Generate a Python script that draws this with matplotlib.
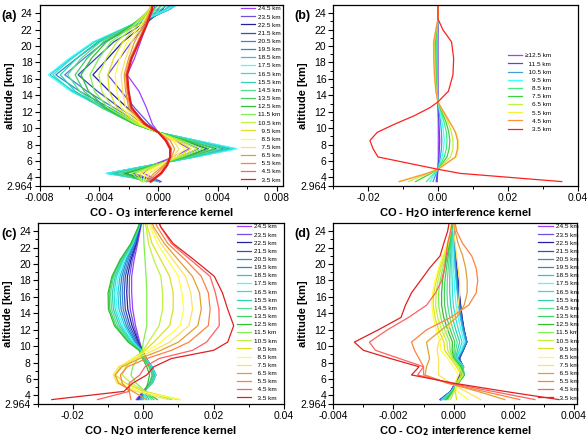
import numpy as np
import matplotlib
matplotlib.use('Agg')
import matplotlib.pyplot as plt
from matplotlib.ticker import FixedLocator

plt.rcParams['font.family'] = ['Liberation Sans', 'DejaVu Sans']
plt.rcParams['axes.unicode_minus'] = False

# ---------------- data ----------------
LEVELS = ['24.5 km', '23.5 km', '22.5 km', '21.5 km', '20.5 km', '19.5 km', '18.5 km',
          '17.5 km', '16.5 km', '15.5 km', '14.5 km', '13.5 km', '12.5 km', '11.5 km',
          '10.5 km', '  9.5 km', '  8.5 km', '  7.5 km', '  6.5 km', '  5.5 km',
          '  4.5 km', '  3.5 km']
COLORS = ['#a040ff', '#7050e0', '#2020a0', '#3050c0', '#4080e0', '#2090c0', '#30c0e0',
          '#40ffff', '#30e0d0', '#30d0b0', '#50e090', '#40d060', '#30c030', '#80f050',
          '#c0f040', '#e0e020', '#ffff40', '#ffe060', '#e0a030', '#ff8040', '#ff6060',
          '#e02020']

LEVELS_B = ['\u226512.5 km', '  11.5 km', '  10.5 km', '    9.5 km', '    8.5 km',
            '    7.5 km', '    6.5 km', '    5.5 km', '    4.5 km', '    3.5 km']
COLORS_B = ['#a040ff', '#6040e0', '#40a0e0', '#40ffff', '#40f080', '#40d040',
            '#c0f040', '#f0f040', '#ff9040', '#ff2020']

# altitude grids [km]
Z_A = [3.5, 4.5, 5.5, 6.5, 7.5, 8.5, 9.5, 10.5, 12.5, 14.5, 16.5, 18.5, 20.5, 22.5, 24.5, 25.0]
Z_B = [3.5, 4.5, 5.0, 6.5, 7.5, 8.5, 9.5, 10.5, 11.5, 12.5, 13.2, 14.5, 16.5, 18.5, 20.5, 22.0, 23.3, 25.0]
Z_C = [3.5, 4.5, 5.5, 6.5, 7.5, 8.5, 9.5, 10.5, 12.5, 14.5, 16.5, 18.5, 20.5, 22.5, 24.5, 25.0]
Z_D = [3.5, 4.5, 5.5, 6.5, 7.5, 8.5, 9.5, 10.5, 12.0, 13.5, 15.0, 16.5, 18.0, 19.5, 21.0, 22.5, 24.0, 25.0]

# CO - O3 kernels (x 1e-3), rows 24.5 km ... 3.5 km
O3_KERNELS = [
    [0.2, -1.0, -0.4, 1.0, 2.1, 1.1, 0.0, -0.4, -0.8, -1.3, -2.1, -1.6, -1.2, -0.8, -0.3, -0.2],
    [0.1, -1.7, -0.4, 1.4, 2.7, 1.4, 0.0, -0.6, -1.6, -2.5, -3.4, -2.6, -1.8, -0.9, 0.0, 0.2],
    [0.1, -2.3, -0.4, 1.8, 3.3, 1.7, 0.0, -0.8, -2.1, -3.3, -4.4, -3.4, -2.4, -1.0, 0.3, 0.5],
    [0.1, -2.8, -0.4, 2.1, 3.9, 2.0, 0.0, -1.0, -2.6, -4.1, -5.4, -4.2, -3.0, -1.2, 0.5, 0.8],
    [0.1, -3.2, -0.5, 2.3, 4.4, 2.3, 0.0, -1.2, -3.0, -4.8, -6.3, -5.0, -3.6, -1.5, 0.7, 1.0],
    [0.1, -3.4, -0.5, 2.4, 4.8, 2.5, 0.0, -1.3, -3.3, -5.3, -6.9, -5.5, -4.0, -1.7, 0.8, 1.1],
    [0.0, -3.5, -0.5, 2.5, 5.2, 2.6, 0.0, -1.4, -3.5, -5.7, -7.3, -5.9, -4.3, -1.8, 0.8, 1.2],
    [-0.2, -3.5, -0.5, 2.5, 5.3, 2.6, 0.0, -1.5, -3.7, -5.9, -7.4, -6.0, -4.4, -1.9, 0.7, 1.1],
    [-0.4, -3.3, -0.5, 2.4, 5.0, 2.5, 0.0, -1.6, -3.8, -5.8, -7.1, -5.8, -4.3, -1.9, 0.5, 0.9],
    [-0.6, -3.0, -0.4, 2.3, 4.6, 2.3, 0.0, -1.6, -3.8, -5.6, -6.6, -5.5, -4.1, -1.9, 0.2, 0.6],
    [-0.8, -2.7, -0.4, 2.1, 4.2, 2.2, 0.0, -1.6, -3.8, -5.3, -6.1, -5.2, -3.9, -1.9, -0.1, 0.3],
    [-0.9, -2.4, -0.3, 1.9, 3.8, 2.0, 0.0, -1.6, -3.7, -5.0, -5.6, -4.8, -3.7, -1.8, -0.3, 0.0],
    [-1.0, -2.1, -0.3, 1.8, 3.4, 1.8, 0.0, -1.6, -3.6, -4.7, -5.2, -4.5, -3.5, -1.8, -0.5, -0.3],
    [-1.1, -1.8, -0.2, 1.6, 3.0, 1.6, 0.0, -1.5, -3.4, -4.3, -4.6, -4.0, -3.2, -1.7, -0.6, -0.5],
    [-1.1, -1.5, -0.1, 1.4, 2.6, 1.4, 0.0, -1.4, -3.1, -3.8, -4.0, -3.5, -2.8, -1.6, -0.6, -0.5],
    [-1.1, -1.2, 0.0, 1.3, 2.2, 1.3, 0.0, -1.3, -2.8, -3.3, -3.4, -3.0, -2.4, -1.4, -0.6, -0.5],
    [-1.0, -0.9, 0.1, 1.1, 1.8, 1.1, 0.0, -1.2, -2.5, -2.8, -2.9, -2.6, -2.1, -1.2, -0.5, -0.4],
    [-0.9, -0.6, 0.3, 1.0, 1.4, 1.0, 0.0, -1.1, -2.2, -2.4, -2.5, -2.2, -1.8, -1.1, -0.5, -0.4],
    [-0.8, -0.3, 0.4, 0.9, 1.1, 0.8, 0.0, -1.0, -2.0, -2.2, -2.3, -2.0, -1.6, -1.0, -0.5, -0.4],
    [-0.7, -0.1, 0.5, 0.8, 0.9, 0.6, 0.0, -0.9, -1.9, -2.1, -2.2, -1.9, -1.4, -0.9, -0.5, -0.4],
    [-0.6, 0.1, 0.6, 0.8, 0.8, 0.5, 0.0, -0.9, -1.8, -2.0, -2.1, -1.8, -1.3, -0.8, -0.4, -0.4],
    [-0.5, 0.2, 0.6, 0.8, 0.8, 0.5, 0.0, -0.9, -1.8, -2.0, -2.1, -1.8, -1.3, -0.8, -0.4, -0.4],
]

# CO - H2O kernels (x 1e-3), rows >=12.5 km ... 3.5 km
H2O_KERNELS = [
    [-0.2, -0.1, 0.0, 0.1, 0.1, 0.1, 0.1, 0.1, 0.05, 0.0, 0.0, 0.0, 0.0, 0.0, 0.0, 0.0, 0.0, 0.0],
    [-0.5, -0.2, 0.0, 0.3, 0.4, 0.5, 0.4, 0.3, 0.2, 0.1, 0.0, -0.05, -0.1, -0.1, -0.1, -0.05, 0.0, 0.0],
    [-1.4, -0.5, 0.0, 0.7, 1.0, 1.1, 1.0, 0.8, 0.5, 0.2, 0.0, -0.1, -0.2, -0.2, -0.2, -0.1, 0.0, 0.0],
    [-2.3, -0.8, 0.0, 1.2, 1.6, 1.8, 1.6, 1.3, 0.8, 0.3, 0.0, -0.2, -0.3, -0.3, -0.3, -0.2, 0.0, 0.0],
    [-3.3, -1.1, 0.0, 1.8, 2.4, 2.6, 2.4, 1.9, 1.2, 0.5, 0.0, -0.3, -0.4, -0.5, -0.5, -0.3, 0.0, 0.0],
    [-6.4, -2.0, 0.0, 2.6, 3.2, 3.4, 3.1, 2.5, 1.6, 0.7, 0.0, -0.4, -0.6, -0.7, -0.7, -0.4, 0.0, 0.0],
    [-8.5, -2.6, 0.0, 3.6, 4.3, 4.3, 3.9, 3.1, 2.0, 0.8, 0.0, -0.5, -0.8, -0.9, -1.0, -0.5, 0.0, 0.0],
    [-11.3, -3.2, 0.0, 5.2, 5.8, 5.8, 5.1, 3.8, 2.4, 1.0, 0.0, -0.6, -1.0, -1.2, -1.3, -0.6, 0.0, 0.0],
    [-11.0, -3.1, 0.0, 5.0, 5.6, 5.6, 5.0, 3.7, 2.3, 0.9, 0.0, -0.6, -1.0, -1.2, -1.2, -0.6, 0.0, 0.0],
    [35.5, 6.4, 0.0, -17.2, -18.6, -19.5, -17.4, -12.4, -6.9, -2.3, 0.0, 3.0, 4.3, 4.5, 3.9, 1.4, 0.0, 0.0],
]

# CO - N2O kernels (x 1e-3), rows 24.5 km ... 3.5 km
N2O_KERNELS = [
    [-2.0, 0.0, 1.8, 2.8, 2.0, 0.6, -0.3, -1.0, -2.2, -3.0, -3.3, -3.3, -2.6, -1.6, -0.7, -0.5],
    [-1.8, 0.0, 2.0, 3.0, 2.2, 0.7, -0.3, -1.2, -2.7, -3.7, -4.0, -3.9, -3.1, -1.8, -0.8, -0.6],
    [-1.5, 0.0, 2.2, 3.2, 2.3, 0.8, -0.3, -1.4, -3.2, -4.4, -4.7, -4.5, -3.5, -2.0, -0.9, -0.7],
    [-1.2, 0.0, 2.4, 3.4, 2.4, 0.8, -0.4, -1.7, -3.8, -5.1, -5.4, -5.1, -3.9, -2.2, -1.0, -0.8],
    [-0.8, 0.1, 2.5, 3.5, 2.5, 0.8, -0.4, -2.0, -4.3, -5.7, -6.0, -5.6, -4.3, -2.4, -1.1, -0.8],
    [-0.4, 0.1, 2.6, 3.6, 2.5, 0.8, -0.5, -2.3, -4.8, -6.3, -6.6, -6.1, -4.7, -2.6, -1.2, -0.9],
    [0.0, 0.2, 2.6, 3.6, 2.5, 0.7, -0.6, -2.6, -5.3, -6.9, -7.2, -6.6, -5.0, -2.8, -1.2, -0.9],
    [0.5, 0.2, 2.5, 3.5, 2.4, 0.6, -0.7, -2.9, -5.8, -7.5, -7.8, -7.1, -5.4, -3.0, -1.3, -1.0],
    [1.0, 0.3, 2.4, 3.4, 2.3, 0.5, -0.8, -3.2, -6.3, -8.0, -8.3, -7.6, -5.7, -3.1, -1.3, -1.0],
    [1.6, 0.3, 2.3, 3.2, 2.1, 0.4, -0.9, -3.5, -6.8, -8.5, -8.8, -8.0, -6.0, -3.3, -1.4, -1.0],
    [2.3, 0.4, 2.1, 2.9, 1.9, 0.3, -1.0, -3.8, -7.3, -9.0, -9.3, -8.4, -6.3, -3.4, -1.4, -1.0],
    [3.0, 0.4, 1.8, 2.5, 1.6, 0.1, -1.1, -4.1, -7.8, -9.5, -9.7, -8.7, -6.5, -3.5, -1.4, -1.0],
    [4.0, 0.5, 1.3, 1.8, 1.0, -0.2, -1.2, -4.3, -8.2, -9.9, -10.0, -8.9, -6.6, -3.5, -1.4, -1.0],
    [8.0, 0.5, -2.0, -3.5, -3.0, -1.5, -0.3, 0.0, 1.0, 1.0, 1.0, 0.8, 0.5, 0.2, 0.0, 0.0],
    [9.5, 0.5, -3.5, -6.0, -5.0, -2.5, 0.0, 1.5, 4.5, 5.5, 5.5, 5.0, 3.0, 1.5, 0.8, 0.5],
    [10.5, 0.0, -5.0, -8.0, -6.5, -3.0, 0.5, 3.0, 7.5, 8.5, 8.5, 7.5, 5.0, 2.5, 1.2, 1.0],
    [10.5, -1.0, -6.5, -8.5, -7.0, -3.0, 1.5, 5.0, 10.5, 11.5, 11.0, 10.0, 7.0, 4.0, 2.0, 1.5],
    [7.0, -2.0, -7.5, -8.5, -7.0, -2.0, 3.0, 7.5, 13.0, 14.0, 13.5, 12.0, 8.5, 5.0, 2.5, 2.0],
    [1.0, -3.0, -7.0, -8.0, -6.0, -1.0, 5.0, 10.0, 15.5, 16.5, 16.0, 14.0, 10.0, 6.0, 3.0, 2.5],
    [-3.5, -4.0, -6.0, -6.5, -4.5, 1.0, 8.0, 13.0, 18.5, 19.0, 18.5, 16.5, 12.0, 7.0, 4.0, 3.5],
    [-13.0, -4.0, -4.0, -1.0, 0.5, 4.5, 14.0, 18.0, 21.6, 21.5, 20.5, 19.0, 13.5, 8.0, 5.0, 4.5],
    [-26.0, -5.5, -3.0, 1.0, 3.0, 8.0, 20.0, 24.0, 25.7, 24.0, 22.5, 20.2, 14.5, 8.5, 5.0, 4.5],
]

# CO - CO2 kernels (x 1e-3), rows 24.5 km ... 3.5 km
CO2_KERNELS = [
    [-0.45, -0.10, 0.05, 0.20, 0.30, 0.20, 0.30, 0.42, 0.33, 0.27, 0.22, 0.18, 0.14, 0.10, 0.06, 0.03, 0.00, -0.02],
    [-0.45, -0.10, 0.05, 0.22, 0.30, 0.20, 0.32, 0.43, 0.34, 0.28, 0.23, 0.19, 0.15, 0.10, 0.06, 0.03, 0.00, -0.02],
    [-0.44, -0.10, 0.06, 0.24, 0.32, 0.18, 0.32, 0.44, 0.35, 0.28, 0.23, 0.18, 0.14, 0.10, 0.06, 0.02, 0.00, -0.02],
    [-0.43, -0.09, 0.07, 0.26, 0.33, 0.17, 0.31, 0.44, 0.34, 0.27, 0.21, 0.17, 0.13, 0.09, 0.05, 0.02, 0.00, -0.02],
    [-0.42, -0.09, 0.08, 0.27, 0.33, 0.15, 0.30, 0.43, 0.33, 0.25, 0.20, 0.15, 0.11, 0.07, 0.04, 0.01, -0.01, -0.03],
    [-0.41, -0.08, 0.09, 0.29, 0.33, 0.14, 0.29, 0.42, 0.32, 0.24, 0.18, 0.14, 0.10, 0.06, 0.04, 0.01, -0.01, -0.03],
    [-0.40, -0.08, 0.10, 0.30, 0.33, 0.12, 0.28, 0.40, 0.30, 0.22, 0.16, 0.12, 0.08, 0.05, 0.03, 0.00, -0.02, -0.03],
    [-0.38, -0.07, 0.12, 0.32, 0.32, 0.10, 0.24, 0.35, 0.24, 0.15, 0.08, 0.04, 0.02, 0.00, -0.01, -0.02, -0.03, -0.04],
    [-0.36, -0.06, 0.13, 0.34, 0.32, 0.08, 0.19, 0.28, 0.16, 0.06, -0.01, -0.04, -0.05, -0.06, -0.06, -0.05, -0.04, -0.04],
    [-0.33, -0.05, 0.14, 0.35, 0.30, 0.06, 0.13, 0.20, 0.07, -0.04, -0.10, -0.13, -0.13, -0.12, -0.10, -0.08, -0.05, -0.05],
    [-0.30, -0.04, 0.15, 0.36, 0.28, 0.04, 0.07, 0.12, -0.02, -0.13, -0.20, -0.22, -0.21, -0.18, -0.14, -0.10, -0.06, -0.05],
    [-0.27, -0.03, 0.15, 0.36, 0.26, 0.02, 0.01, 0.04, -0.11, -0.23, -0.30, -0.31, -0.29, -0.24, -0.18, -0.12, -0.07, -0.05],
    [-0.23, -0.02, 0.15, 0.35, 0.23, 0.00, -0.05, -0.04, -0.20, -0.33, -0.40, -0.40, -0.37, -0.30, -0.22, -0.14, -0.08, -0.05],
    [-0.18, 0.00, 0.14, 0.33, 0.20, -0.02, -0.12, -0.13, -0.30, -0.43, -0.50, -0.50, -0.45, -0.36, -0.26, -0.16, -0.09, -0.06],
    [-0.10, 0.02, 0.12, 0.30, 0.16, -0.05, -0.20, -0.22, -0.40, -0.53, -0.60, -0.58, -0.52, -0.42, -0.30, -0.18, -0.10, -0.06],
    [0.10, 0.05, 0.10, 0.25, 0.10, -0.10, -0.30, -0.32, -0.50, -0.62, -0.68, -0.66, -0.58, -0.47, -0.34, -0.20, -0.10, -0.06],
    [0.50, 0.10, 0.05, 0.15, 0.00, -0.20, -0.42, -0.45, -0.58, -0.68, -0.72, -0.70, -0.62, -0.50, -0.36, -0.21, -0.10, -0.06],
    [0.90, 0.40, -0.10, -0.50, -0.50, -0.50, -0.55, -0.50, -0.20, 0.00, 0.15, 0.20, 0.20, 0.15, 0.10, 0.05, 0.00, 0.00],
    [1.70, 0.80, -0.20, -0.95, -0.90, -0.80, -0.85, -0.90, -0.40, 0.10, 0.35, 0.45, 0.45, 0.40, 0.30, 0.15, 0.05, 0.00],
    [2.20, 1.00, -0.20, -1.00, -1.00, -1.15, -1.30, -1.40, -0.90, -0.10, 0.50, 0.75, 0.80, 0.75, 0.60, 0.30, 0.10, 0.05],
    [2.70, 1.30, -0.10, -1.20, -1.00, -1.80, -2.60, -2.80, -2.20, -1.50, -0.90, -0.60, -0.40, -0.30, -0.25, -0.20, -0.10, -0.05],
    [3.50, 1.70, 0.00, -1.40, -1.15, -2.10, -3.00, -3.30, -2.50, -1.75, -1.60, -1.40, -1.10, -0.80, -0.45, -0.33, -0.20, -0.15],
]

XLABELS = ['CO - O$_\\mathbf{3}$ interference kernel', 'CO - H$_\\mathbf{2}$O interference kernel',
           'CO - N$_\\mathbf{2}$O interference kernel', 'CO - CO$_\\mathbf{2}$ interference kernel']
PANEL_TAGS = ['(a)', '(b)', '(c)', '(d)']
Y_TICKS = [2.964, 4, 6, 8, 10, 12, 14, 16, 18, 20, 22, 24]
Y_TICKLABELS = ['2.964', '4', '6', '8', '10', '12', '14', '16', '18', '20', '22', '24']

# ---------------- figure ----------------
W, H = 588, 437
fig = plt.figure(figsize=(W / 100, H / 100), dpi=100)


def add_ax(l, t, r, b):
    return fig.add_axes([l / W, 1 - b / H, (r - l) / W, (b - t) / H])


axes = [add_ax(39.5, 5, 283, 186), add_ax(333.3, 5, 577.5, 186),
        add_ax(37.7, 223, 284, 404), add_ax(333.3, 223, 577, 404)]

specs = [
    (O3_KERNELS, Z_A, LEVELS, COLORS, (-0.008, 0.0084),
     [-0.008, -0.004, 0.0, 0.004, 0.008], ['-0.008', '-0.004', '0.000', '0.004', '0.008'],
     [-0.006, -0.002, 0.002, 0.006]),
    (H2O_KERNELS, Z_B, LEVELS_B, COLORS_B, (-0.03, 0.04),
     [-0.02, 0.0, 0.02, 0.04], ['-0.02', '0.00', '0.02', '0.04'], [-0.03, -0.01, 0.01, 0.03]),
    (N2O_KERNELS, Z_C, LEVELS, COLORS, (-0.03, 0.04),
     [-0.02, 0.0, 0.02, 0.04], ['-0.02', '0.00', '0.02', '0.04'], [-0.03, -0.01, 0.01, 0.03]),
    (CO2_KERNELS, Z_D, LEVELS, COLORS, (-0.004, 0.0041),
     [-0.004, -0.002, 0.0, 0.002, 0.004], ['-0.004', '-0.002', '0.000', '0.002', '0.004'],
     [-0.003, -0.001, 0.001, 0.003]),
]

legend_anchor = [(0.826, 0.995), (0.715, 0.735), (0.810, 0.995), (0.842, 0.995)]

for k, (ax, spec) in enumerate(zip(axes, specs)):
    kern, z, labels, colors, xlim, xt, xtl, xminor = spec
    for i, row in enumerate(kern):
        lw = 0.9
        if k == 0 and i == len(kern) - 1:
            lw = 1.6
        ax.plot(np.array(row) * 1e-3, z, color=colors[i], lw=lw, label=labels[i])
    ax.set_xlim(*xlim)
    ax.set_ylim(2.964, 25)
    ax.set_xticks(xt)
    ax.set_xticklabels(xtl)
    ax.xaxis.set_minor_locator(FixedLocator(xminor))
    ax.set_yticks(Y_TICKS)
    ax.set_yticklabels(Y_TICKLABELS)
    ax.yaxis.set_minor_locator(FixedLocator([5, 7, 9, 11, 13, 15, 17, 19, 21, 23]))
    ax.tick_params(which='major', direction='out', length=3.5, width=0.8, labelsize=7.5,
                   pad=1.5, colors='black')
    ax.tick_params(which='minor', direction='out', length=2, width=0.7)
    for s in ax.spines.values():
        s.set_linewidth(0.9)
    ax.set_xlabel(XLABELS[k], fontsize=8, fontweight='bold', labelpad=2)
    ax.set_ylabel('altitude [km]', fontsize=8, fontweight='bold')
    ax.yaxis.set_label_coords(-0.102, 0.5)
    leg = ax.legend(loc='upper left', bbox_to_anchor=legend_anchor[k], frameon=False,
                    fontsize=4.6, handlelength=2.2, handletextpad=0.5, labelspacing=0.42,
                    borderpad=0, borderaxespad=0)
    for hl in leg.get_lines():
        hl.set_linewidth(0.9)

tag_pos = [(1, 15.5), (294, 15.5), (1, 233.5), (294, 233.5)]
for tag, (px, py) in zip(PANEL_TAGS, tag_pos):
    fig.text(px / W, 1 - py / H, tag, fontsize=9, fontweight='bold', ha='left', va='center')

fig.savefig('out.png', dpi=100)
